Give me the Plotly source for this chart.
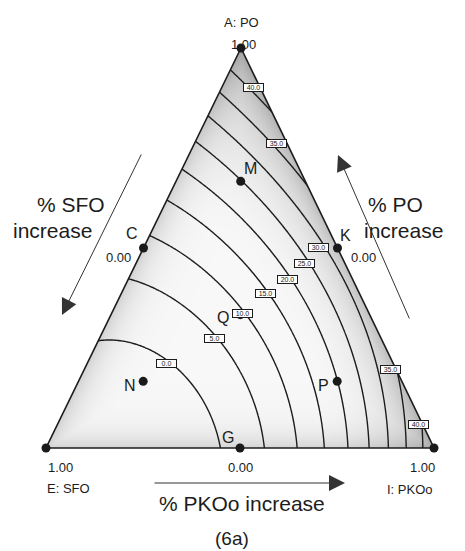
import numpy as np
import plotly.graph_objects as go

# ---------------------------------------------------------------------------
# Response readings (mixture fractions A = PO, E = SFO, I = PKOo) used to fit
# a Scheffe full-cubic mixture model for the contour surface.
# ---------------------------------------------------------------------------
read_A = [0.225, 0.425, 0.5375, 0.6275, 0.70, 0.77, 0.83, 0.8825, 0.9375,
          0.0, 0.0, 0.0, 0.0, 0.0, 0.0, 0.0, 0.0, 0.0,
          0.2125, 0.275, 0.3333, 0.3875, 0.4225, 0.4625, 0.5025,
          0.7625, 0.9025, 0.1975, 0.06, 0.6667, 0.25, 0.27, 0.27,
          0.0, 0.1667, 0.08]
read_I = [0.0, 0.0, 0.0, 0.0, 0.0, 0.0, 0.0, 0.0, 0.0,
          0.443, 0.557, 0.647, 0.714, 0.778, 0.832, 0.881, 0.933, 0.977,
          0.205, 0.297, 0.3333, 0.370, 0.409, 0.435, 0.4485,
          0.212, 0.080, 0.7875, 0.929, 0.1667, 0.065, 0.614, 0.668,
          0.0, 0.1667, 0.08]
read_Y = [0, 5, 10, 15, 20, 25, 30, 35, 40,
          0, 5, 10, 15, 20, 25, 30, 35, 40,
          0, 5, 10, 15, 20, 25, 30,
          35, 40, 35, 40, 25, 0, 20, 25,
          -2.5, -4.0, -3.5]
read_E = [1.0 - a - i for a, i in zip(read_A, read_I)]

# Contour levels and the boxed labels placed on them
levels = [0, 5, 10, 15, 20, 25, 30, 35, 40]
lab_val = [0, 5, 10, 15, 20, 25, 30, 35, 40, 35, 40]
lab_A = [0.2125, 0.275, 0.3375, 0.3875, 0.4225, 0.4625, 0.5025, 0.7625, 0.9025, 0.1975, 0.06]
lab_I = [0.205, 0.297, 0.338, 0.370, 0.409, 0.435, 0.4485, 0.212, 0.080, 0.7875, 0.929]

# Design points of the mixture experiment
pt_name = ["A", "E", "I", "C", "K", "G", "M", "N", "P", "Q"]
pt_A = [1.0, 0.0, 0.0, 0.5, 0.5, 0.0, 0.6667, 0.1667, 0.1667, 0.3333]
pt_I = [0.0, 0.0, 1.0, 0.0, 0.5, 0.5, 0.1667, 0.1667, 0.6667, 0.3333]

# ---------------------------------------------------------------------------
# Triangle placement on the page (pixel space)
APEX = (241.0, 48.0)     # A: PO
LEFT = (46.0, 448.0)     # E: SFO
RIGHT = (434.0, 448.0)   # I: PKOo
W, H = 465, 551
FONT = "Arial, Liberation Sans, sans-serif"
INK = "#1c1c1c"


def to_xy(a, i):
    a = np.asarray(a, float)
    i = np.asarray(i, float)
    e = 1.0 - a - i
    x = APEX[0] * a + LEFT[0] * e + RIGHT[0] * i
    y = APEX[1] * a + LEFT[1] * e + RIGHT[1] * i
    return x, y


def from_xy(x, y):
    a = (LEFT[1] - y) / (LEFT[1] - APEX[1])
    i = (x - LEFT[0] - (APEX[0] - LEFT[0]) * a) / (RIGHT[0] - LEFT[0])
    return a, 1.0 - a - i, i


def basis(a, e, i):
    return np.stack([a, e, i, a * e, a * i, e * i,
                     a * e * (a - e), a * i * (a - i), e * i * (e - i),
                     a * e * i], axis=-1)


ra, re_, ri = np.array(read_A), np.array(read_E), np.array(read_I)
coef, *_ = np.linalg.lstsq(basis(ra, re_, ri), np.array(read_Y, float), rcond=None)

# evaluation grid covering the triangle's bounding box
xs = np.arange(36.0, 446.0, 1.5)
ys = np.arange(38.0, 458.0, 1.5)
X, Y = np.meshgrid(xs, ys)
ga, ge, gi = from_xy(X, Y)
Z = basis(ga, ge, gi) @ coef

# grey shading: darker toward high response and toward the triangle sides
d_edge = np.minimum.reduce([ga * 400.0, gi * 348.8, ge * 349.5])
d_edge = np.clip(d_edge, 0, None)
shade = 0.36 * np.exp(-d_edge / 15.0) + 0.5 * np.clip((Z - 14.0) / 32.0, 0, 1) ** 1.7
shade = np.clip(shade, 0, 1)

fig = go.Figure()
fig.add_trace(go.Heatmap(x=xs, y=ys, z=shade, zmin=0, zmax=1, zsmooth="best",
                         colorscale=[[0, "#f8f8f8"], [1, "#929292"]],
                         showscale=False, hoverinfo="skip"))
fig.add_trace(go.Contour(x=xs, y=ys, z=Z,
                         contours=dict(start=levels[0], end=levels[-1], size=5,
                                       coloring="none"),
                         line=dict(color=INK, width=1.4),
                         showscale=False, hoverinfo="skip"))

# white masks outside the triangle
x0, x1, y0, y1 = 30.0, 452.0, 30.0, 462.0
masks = [
    [(x0, y0), (APEX[0], y0), APEX, LEFT, (LEFT[0], y1), (x0, y1)],
    [(APEX[0], y0), (x1, y0), (x1, y1), (RIGHT[0], y1), RIGHT, APEX],
    [(LEFT[0] - 2, LEFT[1]), (RIGHT[0] + 2, RIGHT[1]), (RIGHT[0] + 2, y1), (LEFT[0] - 2, y1)],
]
for poly in masks:
    mx, my = zip(*poly)
    fig.add_trace(go.Scatter(x=list(mx) + [mx[0]], y=list(my) + [my[0]], mode="lines",
                             fill="toself", fillcolor="white",
                             line=dict(width=0, color="white"), hoverinfo="skip",
                             showlegend=False))

# triangle sides
tx, ty = to_xy([1, 0, 0, 1], [0, 0, 1, 0])
fig.add_trace(go.Scatter(x=tx, y=ty, mode="lines", line=dict(color=INK, width=1.6),
                         hoverinfo="skip", showlegend=False))

# design points
px, py = to_xy(pt_A, pt_I)
fig.add_trace(go.Scatter(x=px, y=py, mode="markers",
                         marker=dict(size=9, color="#1a1a1a"),
                         hoverinfo="skip", showlegend=False))

ann = []


def text(x, y, s, size, **kw):
    ann.append(dict(x=x, y=y, text=s, showarrow=False, xref="x", yref="y",
                    font=dict(family=FONT, size=size, color=INK), **kw))


# point letters, offset from their dots
letter_off = {"C": (-12, -15), "K": (8, -13), "M": (10, -13), "Q": (-17, 3),
              "N": (-13, 4), "P": (-14, 4), "G": (-12, -11)}
for n, x, y in zip(pt_name, px, py):
    if n in letter_off:
        dx, dy = letter_off[n]
        text(x, y, n, 16, xshift=dx, yshift=-dy)

# contour value boxes
lx, ly = to_xy(lab_A, lab_I)
for v, x, y in zip(lab_val, lx, ly):
    ann.append(dict(x=x, y=y, text=f"{v:.1f}", showarrow=False, xref="x", yref="y",
                    font=dict(family=FONT, size=7, color=INK),
                    bgcolor="white", bordercolor=INK, borderwidth=1, borderpad=0,
                    width=19, height=7))

# vertex and side-midpoint scale values
text(241, 22, "A: PO", 13)
text(243, 44, "1.00", 13)
text(118, 257, "0.00", 13)
text(363, 257, "0.00", 13)
text(60, 467, "1.00", 13)
text(68, 488, "E: SFO", 13)
text(240, 467, "0.00", 13)
text(422, 467, "1.00", 13)
text(410, 489, "I: PKOo", 13)

# direction captions
text(71, 204, "% SFO", 21)
text(52, 230, "increase", 21)
text(395, 204, "% PO", 21)
text(403, 230, "increase", 21)
text(242, 503, "% PKOo increase", 21)
text(232, 538, "(6a)", 19)

# direction arrows
for (hx, hy, tx_, ty_) in [(62, 315, 142, 153), (338, 155, 410, 320), (345, 483, 153, 483)]:
    ann.append(dict(x=hx, y=hy, ax=tx_, ay=ty_, xref="x", yref="y", axref="x", ayref="y",
                    text="", showarrow=True, arrowhead=2, arrowsize=3.2,
                    arrowwidth=1, arrowcolor="#333333"))

fig.update_layout(
    width=W, height=H, margin=dict(l=0, r=0, t=0, b=0),
    paper_bgcolor="white", plot_bgcolor="white",
    xaxis=dict(range=[0, W], visible=False, fixedrange=True),
    yaxis=dict(range=[H, 0], visible=False, fixedrange=True),
    annotations=ann, showlegend=False,
)
fig.write_html("out.html")
